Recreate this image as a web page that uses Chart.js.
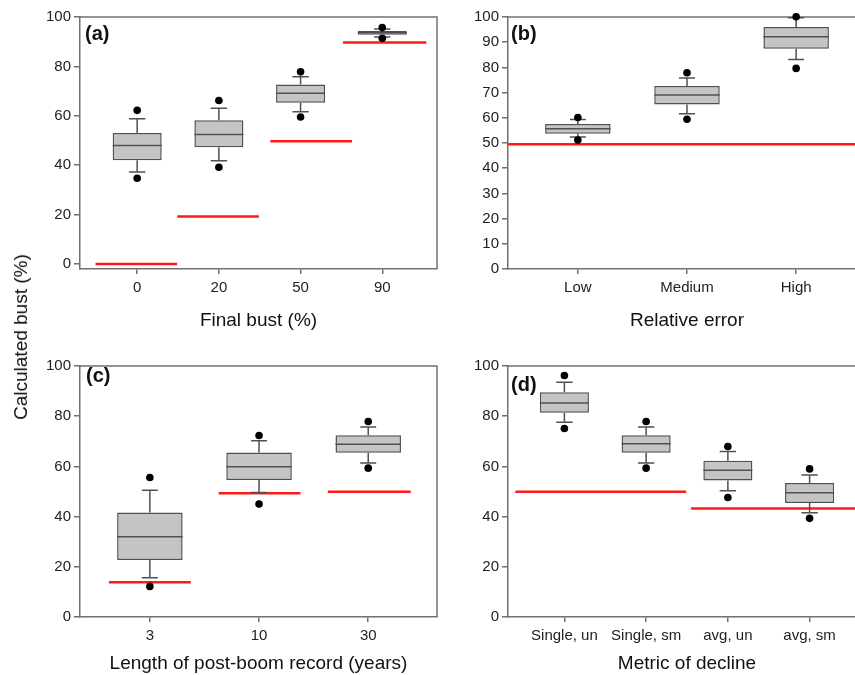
<!DOCTYPE html>
<html><head><meta charset="utf-8">
<script src="https://cdn.jsdelivr.net/npm/chart.js@4.4.1/dist/chart.umd.min.js"></script>
<style>
html,body{margin:0;padding:0;background:#fff;overflow:hidden;width:855px;height:675px;position:relative;}
canvas{position:absolute;display:block;}
.lbl{position:absolute;font:bold 20px "Liberation Sans",Arial,sans-serif;color:#111;line-height:20px;transform:translateY(-50%);}
#ytitle{position:absolute;font:19px "Liberation Sans",Arial,sans-serif;color:#111;white-space:nowrap;left:21px;top:337px;transform:translate(-50%,-50%) rotate(-90deg);}
</style></head><body>
<canvas id="ca" width="450" height="332" style="left:0;top:0;width:450px;height:332px"></canvas>
<canvas id="cb" width="420" height="332" style="left:450px;top:0;width:420px;height:332px"></canvas>
<canvas id="cc" width="450" height="345" style="left:0;top:330px;width:450px;height:345px"></canvas>
<canvas id="cd" width="420" height="345" style="left:450px;top:330px;width:420px;height:345px"></canvas>
<div class="lbl" style="left:85px;top:33px">(a)</div>
<div class="lbl" style="left:511px;top:33px">(b)</div>
<div class="lbl" style="left:86px;top:375px">(c)</div>
<div class="lbl" style="left:511px;top:384px">(d)</div>
<div id="ytitle">Calculated bust (%)</div>
<script>
// ---------- Panel (a): Final bust ----------
const catsA   = ['0', '20', '50', '90'];
const q1A     = [42.0, 47.3, 65.3, 92.8];
const medA    = [48.0, 52.4, 69.1, 93.6];
const q3A     = [53.0, 58.2, 72.7, 94.3];
const whLoA   = [37.3, 41.8, 61.6, 91.9];
const whHiA   = [58.8, 63.1, 75.8, 95.1];
const outLoA  = [34.7, 39.2, 59.5, 91.4];
const outHiA  = [62.2, 66.2, 77.8, 95.7];
const trueA   = [0, 19.2, 49.7, 89.7];
const yTicksA = [0, 20, 40, 60, 80, 100];

// ---------- Panel (b): Relative error ----------
const catsB   = ['Low', 'Medium', 'High'];
const q1B     = [53.7, 65.3, 87.4];
const medB    = [55.7, 69.0, 92.2];
const q3B     = [57.5, 72.6, 96.0];
const whLoB   = [52.4, 61.6, 83.1];
const whHiB   = [59.3, 75.8, 99.7];
const outLoB  = [51.2, 59.4, 79.6];
const outHiB  = [60.1, 77.9, 100.1];
const trueB   = [49.5];
const yTicksB = [0, 10, 20, 30, 40, 50, 60, 70, 80, 90, 100];

// ---------- Panel (c): Length of post-boom record ----------
const catsC   = ['3', '10', '30'];
const q1C     = [22.7, 54.6, 65.4];
const medC    = [32.0, 59.9, 68.8];
const q3C     = [41.6, 65.5, 72.4];
const whLoC   = [15.6, 49.6, 61.4];
const whHiC   = [50.5, 70.2, 75.7];
const outLoC  = [12.2, 45.0, 59.3];
const outHiC  = [55.6, 72.3, 77.9];
const trueC   = [13.8, 49.3, 49.9];
const yTicksC = [0, 20, 40, 60, 80, 100];

// ---------- Panel (d): Metric of decline ----------
const catsD   = ['Single, un', 'Single, sm', 'avg, un', 'avg, sm'];
const q1D     = [81.4, 65.4, 54.4, 45.4];
const medD    = [85.3, 69.0, 58.5, 49.5];
const q3D     = [89.5, 72.4, 62.3, 53.4];
const whLoD   = [77.6, 61.4, 50.3, 41.5];
const whHiD   = [93.5, 75.7, 65.9, 56.6];
const outLoD  = [75.1, 59.3, 47.6, 39.3];
const outHiD  = [96.2, 77.9, 67.9, 59.0];
const trueD   = [49.9, 43.2];
const yTicksD = [0, 20, 40, 60, 80, 100];

// ---------- layout / style (not data) ----------
const FONT = '"Liberation Sans", Arial, sans-serif';
const AXIS = '#707070', BOXLINE = '#505050', BOXFILL = '#c4c4c4', RED = '#ff1a1a';
const BOX_HALF = 0.3;

const panels = [
  {id:'ca', W:450, H:332, yW:80, padT:17, padR:13, xH:63, xMin:-0.70, xMax:3.67, yMin:-2.02, cap:0.10,
   title:'Final bust (%)', spans:[[-0.51,0.49],[0.49,1.49],[1.63,2.63],[2.52,3.54]],
   d:{cats:catsA,q1:q1A,med:medA,q3:q3A,wl:whLoA,wh:whHiA,ol:outLoA,oh:outHiA,tr:trueA,yt:yTicksA}},
  {id:'cb', W:420, H:332, yW:58, padT:17, padR:4, xH:63, xMin:-0.64, xMax:2.64, yMin:0, cap:0.073,
   title:'Relative error', spans:[[-0.64,2.64]],
   d:{cats:catsB,q1:q1B,med:medB,q3:q3B,wl:whLoB,wh:whHiB,ol:outLoB,oh:outHiB,tr:trueB,yt:yTicksB}},
  {id:'cc', W:450, H:345, yW:80, padT:36, padR:13, xH:58, xMin:-0.64, xMax:2.63, yMin:0, cap:0.073,
   title:'Length of post-boom record (years)', spans:[[-0.375,0.375],[0.63,1.38],[1.63,2.39]],
   d:{cats:catsC,q1:q1C,med:medC,q3:q3C,wl:whLoC,wh:whHiC,ol:outLoC,oh:outHiC,tr:trueC,yt:yTicksC}},
  {id:'cd', W:420, H:345, yW:58, padT:36, padR:4, xH:58, xMin:-0.69, xMax:3.69, yMin:0, cap:0.10,
   title:'Metric of decline', spans:[[-0.6,1.49],[1.55,3.69]],
   d:{cats:catsD,q1:q1D,med:medD,q3:q3D,wl:whLoD,wh:whHiD,ol:outLoD,oh:outHiD,tr:trueD,yt:yTicksD}}
];

const framePlugin = {
  id:'frame',
  beforeDatasetsDraw(chart){
    const {ctx, chartArea:a} = chart;
    ctx.save();
    ctx.strokeStyle = AXIS; ctx.lineWidth = 1.5;
    ctx.beginPath();
    ctx.moveTo(a.left, a.top); ctx.lineTo(a.right, a.top); ctx.lineTo(a.right, a.bottom);
    ctx.stroke();
    ctx.restore();
  }
};

function build(p){
  const d = p.d, w = BOX_HALF, c = p.cap;
  const gap = i => ({x:i, y:null});
  const outliers = d.cats.flatMap((_, i) => [{x:i, y:d.oh[i]}, {x:i, y:d.ol[i]}]);
  const medians = d.cats.flatMap((_, i) => [{x:i-w, y:d.med[i]}, {x:i+w, y:d.med[i]}, gap(i)]);
  const whiskers = d.cats.flatMap((_, i) => [
    {x:i, y:d.q3[i]}, {x:i, y:d.wh[i]}, gap(i),
    {x:i-c, y:d.wh[i]}, {x:i+c, y:d.wh[i]}, gap(i),
    {x:i, y:d.q1[i]}, {x:i, y:d.wl[i]}, gap(i),
    {x:i-c, y:d.wl[i]}, {x:i+c, y:d.wl[i]}, gap(i)
  ]);
  const boxes = d.cats.map((_, i) => ({x:i, y:[d.q1[i], d.q3[i]]}));
  const red = d.tr.flatMap((v, k) => [{x:p.spans[k][0], y:v}, {x:p.spans[k][1], y:v}, gap(p.spans[k][1])]);

  new Chart(document.getElementById(p.id), {
    type:'scatter',
    data:{datasets:[
      {type:'scatter', data:outliers, pointRadius:3.8, pointBackgroundColor:'#000', pointBorderWidth:0, clip:false},
      {type:'line', data:medians, borderColor:BOXLINE, borderWidth:1.5, pointRadius:0, spanGaps:false, fill:false},
      {type:'line', data:whiskers, borderColor:BOXLINE, borderWidth:1.5, pointRadius:0, spanGaps:false, fill:false},
      {type:'bar', data:boxes, backgroundColor:BOXFILL, borderColor:BOXLINE, borderWidth:1.5, borderSkipped:false,
       barPercentage:2*BOX_HALF, categoryPercentage:1},
      {type:'line', data:red, borderColor:RED, borderWidth:2.5, pointRadius:0, spanGaps:false, fill:false}
    ]},
    options:{
      responsive:false, animation:false, events:[],
      layout:{padding:{top:p.padT, right:p.padR, left:0, bottom:0}},
      plugins:{legend:{display:false}, tooltip:{enabled:false}},
      scales:{
        x:{type:'linear', min:p.xMin, max:p.xMax, offset:false,
           afterBuildTicks:s => { s.ticks = d.cats.map((_, i) => ({value:i})); },
           afterFit:s => { s.height = p.xH; },
           ticks:{callback:v => d.cats[v], autoSkip:false, maxRotation:0, padding:5, color:'#222', font:{family:FONT, size:15}},
           grid:{offset:false, drawOnChartArea:false, drawTicks:true, tickLength:5, color:AXIS, lineWidth:1.5},
           border:{display:true, color:AXIS, width:1.5},
           title:{display:true, text:p.title, color:'#111', font:{family:FONT, size:19}, padding:{top:0, bottom:0}}},
        y:{type:'linear', min:p.yMin, max:100,
           afterBuildTicks:s => { s.ticks = d.yt.map(v => ({value:v})); },
           afterFit:s => { s.width = p.yW; },
           ticks:{callback:v => String(v), padding:3, color:'#222', font:{family:FONT, size:15}},
           grid:{drawOnChartArea:false, drawTicks:true, tickLength:6, color:AXIS, lineWidth:1.5},
           border:{display:true, color:AXIS, width:1.5}}
      }
    },
    plugins:[framePlugin]
  });
}
panels.forEach(build);
</script>
</body></html>
